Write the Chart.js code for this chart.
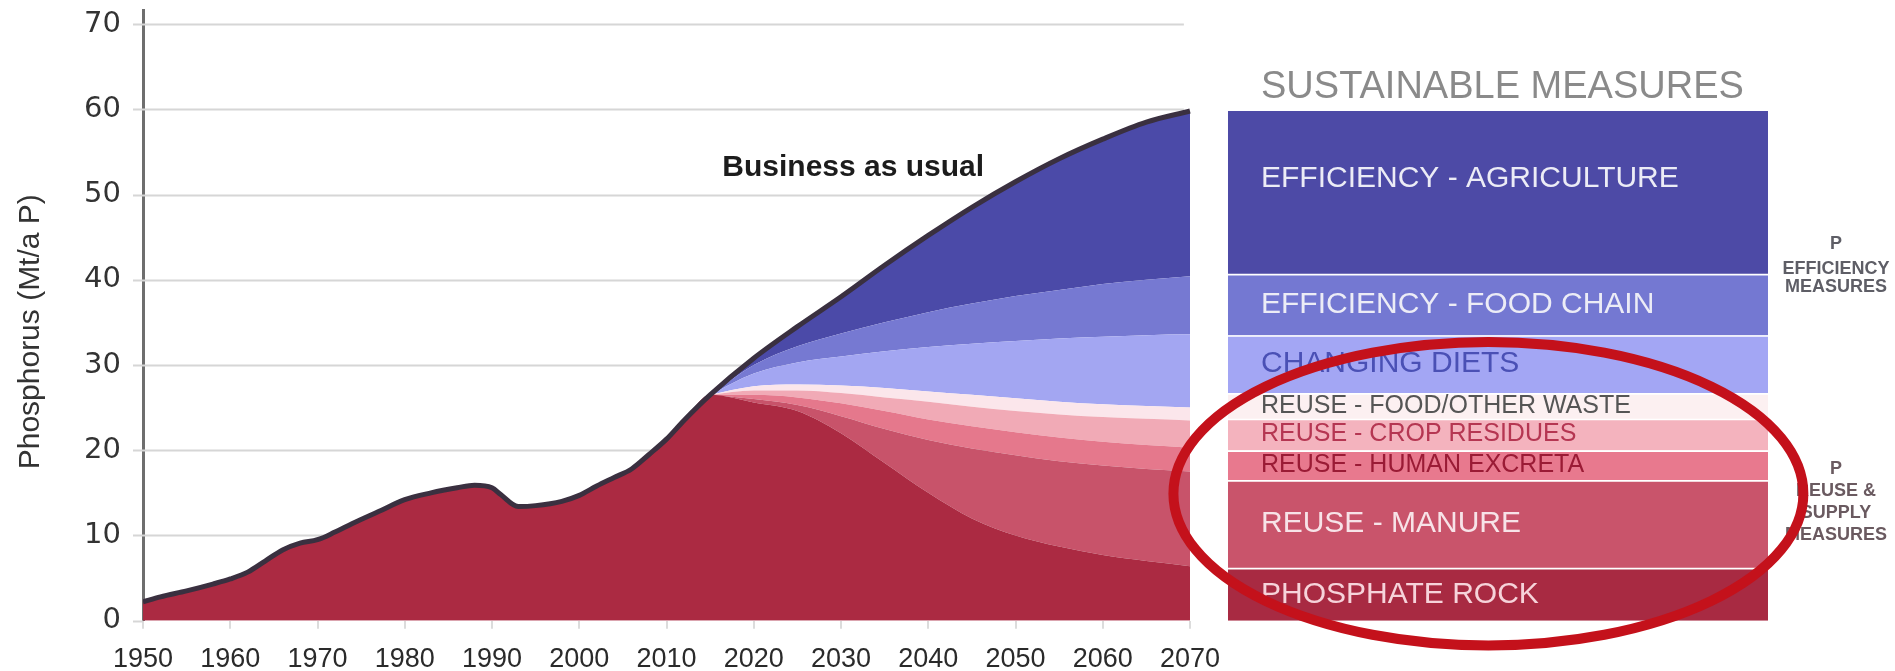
<!DOCTYPE html>
<html>
<head>
<meta charset="utf-8">
<script src="https://cdn.jsdelivr.net/npm/chart.js@4/dist/chart.umd.min.js"></script>
<style>
  html, body { margin: 0; padding: 0; background: #fff; }
  #wrap { width: 1895px; height: 671px; }
</style>
</head>
<body>
<div id="wrap"><canvas id="myChart" width="1895" height="671"></canvas></div>
<script>
// historical phosphorus use (Mt/a P), all from phosphate rock
const histYears = [1950, 1952, 1955, 1958, 1960, 1962, 1964, 1966, 1968, 1970, 1972, 1974, 1977, 1980, 1983, 1986, 1988, 1990, 1991, 1993, 1995, 1998, 2000, 2002, 2004, 2006, 2008, 2010, 2012, 2015];
const histTotal = [2.2, 2.8, 3.5, 4.3, 4.9, 5.7, 7.0, 8.3, 9.1, 9.5, 10.4, 11.4, 12.8, 14.2, 15.0, 15.6, 15.9, 15.6, 14.8, 13.4, 13.5, 14.0, 14.7, 15.8, 16.8, 17.8, 19.5, 21.3, 23.5, 26.5];

// scenario years, each array is the top of that layer
const futYears  = [2015, 2020, 2025, 2030, 2035, 2040, 2045, 2050, 2055, 2060, 2065, 2070];
const bau       = [26.5, 30.8, 34.5, 38.0, 41.7, 45.2, 48.5, 51.5, 54.2, 56.5, 58.5, 59.8];
const foodChain = [26.5, 30.0, 32.2, 33.7, 35.0, 36.2, 37.2, 38.1, 38.8, 39.5, 40.0, 40.4];
const diets     = [26.5, 29.0, 30.3, 31.0, 31.6, 32.1, 32.5, 32.8, 33.1, 33.3, 33.5, 33.6];
const waste     = [26.5, 27.5, 27.7, 27.6, 27.3, 26.9, 26.5, 26.1, 25.7, 25.4, 25.2, 25.0];
const crop      = [26.5, 27.0, 27.0, 26.7, 26.2, 25.7, 25.1, 24.6, 24.2, 23.9, 23.7, 23.5];
const excreta   = [26.5, 26.5, 26.2, 25.5, 24.6, 23.6, 22.8, 22.1, 21.5, 21.0, 20.6, 20.3];
const manure    = [26.5, 26.0, 25.3, 24.0, 22.5, 21.2, 20.2, 19.4, 18.7, 18.2, 17.8, 17.5];
const rock      = [26.5, 25.6, 24.6, 22.0, 18.5, 15.0, 12.0, 10.0, 8.7, 7.7, 7.0, 6.4];

// "sustainable measures" column, bottom to top
const measureNames = ['PHOSPHATE ROCK', 'REUSE - MANURE', 'REUSE - HUMAN EXCRETA', 'REUSE - CROP RESIDUES',
  'REUSE - FOOD/OTHER WASTE', 'CHANGING DIETS', 'EFFICIENCY - FOOD CHAIN', 'EFFICIENCY - AGRICULTURE'];
const measureTops = [6.2, 16.5, 20.0, 23.7, 26.7, 33.5, 40.7, 60.0];

const xTicks = [1950, 1960, 1970, 1980, 1990, 2000, 2010, 2020, 2030, 2040, 2050, 2060, 2070];
const yTicks = [0, 10, 20, 30, 40, 50, 60, 70];

const colRock = '#ab2a42', colManure = '#c8536a', colExcreta = '#e5788c', colCrop = '#f1aab6',
      colWaste = '#fbe6eb', colDiets = '#a3a6f2', colFood = '#7679d2', colAgri = '#4b4aa8';
const measureColors = ['#a82a42', '#c9546b', '#e8798e', '#f4b3be', '#fcf0f1', '#a3a6f4', '#7478d2', '#4d4aa6'];
const measureText = ['#f6d3da', '#f7e3e8', '#9a1b35', '#b53652', '#555555', '#4a50b5', '#ececf6', '#ececf6'];
const measureFont = [30, 30, 25, 25, 25, 30, 30, 30];

const FONT = '"Liberation Sans", Arial, sans-serif';
Chart.defaults.font.family = FONT;
Chart.defaults.color = '#333';

function pts(xs, ys) {
  return xs.map((x, i) => ({x: x, y: ys[i]}));
}

function area(label, ys, color, fill) {
  return {
    label: label,
    data: pts(futYears, ys),
    backgroundColor: color,
    borderWidth: 0,
    pointRadius: 0,
    fill: fill,
    cubicInterpolationMode: 'monotone'
  };
}

const rockPts = pts(histYears, histTotal).concat(pts(futYears.slice(1), rock.slice(1)));
const totalPts = pts(histYears, histTotal).concat(pts(futYears.slice(1), bau.slice(1)));
const measureX = 2105.3;

const labelPlugin = {
  id: 'labels',
  beforeDatasetsDraw(chart) {
    const ctx = chart.ctx, x = chart.scales.x, y = chart.scales.y;
    ctx.save();
    ctx.strokeStyle = '#d6d6d6';
    ctx.lineWidth = 2;
    yTicks.forEach(v => {
      const py = Math.round(y.getPixelForValue(v)) + 0.5;
      ctx.beginPath();
      ctx.moveTo(chart.chartArea.left - 10, py);
      ctx.lineTo(v === 0 ? chart.chartArea.left : x.getPixelForValue(2069.3), py);
      ctx.stroke();
    });
    ctx.restore();
  },
  afterDatasetsDraw(chart) {
    const ctx = chart.ctx, x = chart.scales.x, y = chart.scales.y;
    const bars = chart.getDatasetMeta(chart.data.datasets.length - 1).data;
    ctx.save();
    ctx.textBaseline = 'middle';
    ctx.textAlign = 'left';
    bars.forEach((el, i) => {
      const left = el.x - el.width / 2;
      const dy = i === bars.length - 1 ? -13 : 0;
      ctx.font = measureFont[i] + 'px ' + FONT;
      ctx.fillStyle = measureText[i];
      ctx.fillText(measureNames[i], left + 33, (el.y + el.base) / 2 + dy);
    });
    const left0 = bars[0].x - bars[0].width / 2;
    ctx.font = '38px ' + FONT;
    ctx.fillStyle = '#8a8a8a';
    ctx.fillText('SUSTAINABLE MEASURES', left0 + 33, y.getPixelForValue(62.5));

    ctx.font = 'bold 30px ' + FONT;
    ctx.fillStyle = '#1c1c1c';
    ctx.fillText('Business as usual', x.getPixelForValue(2016.4), y.getPixelForValue(53.1));

    // side notes
    const right0 = bars[0].x + bars[0].width / 2;
    ctx.textAlign = 'center';
    ctx.font = 'bold 18px ' + FONT;
    ctx.fillStyle = '#5e5e66';
    [['P', 44.2], ['EFFICIENCY', 41.3], ['MEASURES', 39.1]].forEach(t => {
      ctx.fillText(t[0], right0 + 68, y.getPixelForValue(t[1]));
    });
    ctx.fillStyle = '#6a5a60';
    [['P', 17.8], ['REUSE &', 15.2], ['SUPPLY', 12.6], ['MEASURES', 10.0]].forEach(t => {
      ctx.fillText(t[0], right0 + 68, y.getPixelForValue(t[1]));
    });
    ctx.restore();
  },
  afterDraw(chart) {
    const ctx = chart.ctx, x = chart.scales.x, y = chart.scales.y;
    ctx.save();
    // y axis title
    ctx.translate(31, y.getPixelForValue(33.9));
    ctx.rotate(-Math.PI / 2);
    ctx.font = '30px ' + FONT;
    ctx.fillStyle = '#333';
    ctx.textAlign = 'center';
    ctx.textBaseline = 'middle';
    ctx.fillText('Phosphorus (Mt/a P)', 0, 0);
    ctx.restore();

    // red ring around the reuse and supply measures
    const cx = x.getPixelForValue(2104.2), cy = y.getPixelForValue(14.9);
    const rx = x.getPixelForValue(2104.2 + 36.1) - cx, ry = cy - y.getPixelForValue(14.9 + 17.8);
    ctx.save();
    ctx.strokeStyle = '#c4111b';
    ctx.lineWidth = 10;
    ctx.beginPath();
    ctx.ellipse(cx, cy, rx, ry, 0, 0, Math.PI * 2);
    ctx.stroke();
    ctx.restore();
  }
};

const config = {
  data: {
    datasets: [
      {
        label: 'Phosphate rock',
        data: rockPts,
        backgroundColor: colRock,
        borderWidth: 0,
        pointRadius: 0,
        fill: 'origin',
        cubicInterpolationMode: 'monotone'
      },
      area('Reuse - manure', manure, colManure, '-1'),
      area('Reuse - human excreta', excreta, colExcreta, '-1'),
      area('Reuse - crop residues', crop, colCrop, '-1'),
      area('Reuse - food/other waste', waste, colWaste, '-1'),
      area('Changing diets', diets, colDiets, '-1'),
      area('Efficiency - food chain', foodChain, colFood, '-1'),
      area('Efficiency - agriculture', bau, colAgri, '-1'),
      {
        label: 'Business as usual',
        data: totalPts,
        borderColor: '#3a3040',
        borderWidth: 5,
        pointRadius: 0,
        fill: false,
        order: -1,
        cubicInterpolationMode: 'monotone'
      },
      {
        type: 'bar',
        label: 'Sustainable measures',
        data: measureTops.map((t, i) => ({x: measureX, y: [i ? measureTops[i - 1] : 0, t]})),
        backgroundColor: measureColors,
        borderColor: 'rgba(255,255,255,0.6)',
        borderWidth: {top: 2, right: 0, bottom: 0, left: 0},
        borderSkipped: false,
        barThickness: 540,
        order: 1
      }
    ]
  },
  type: 'line',
  options: {
    responsive: false,
    animation: false,
    layout: { padding: { top: 10.4, right: 7, left: 0, bottom: 0 } },
    plugins: { legend: { display: false }, tooltip: { enabled: false } },
    scales: {
      x: {
        type: 'linear',
        min: 1950,
        max: 2150,
        offset: false,
        afterBuildTicks: s => { s.ticks = xTicks.map(v => ({value: v})); },
        afterFit: s => { s.height = 50.3; },
        ticks: { font: { size: 27 }, color: '#2a2a2a', padding: 15, maxRotation: 0, autoSkip: false, callback: v => String(v) },
        grid: { offset: false, drawOnChartArea: false, tickLength: 8, color: '#dcdcdc', lineWidth: 2 },
        border: { display: false }
      },
      y: {
        min: 0,
        max: 71.6,
        afterBuildTicks: s => { s.ticks = yTicks.map(v => ({value: v})); },
        afterFit: s => { s.width = 143; },
        // the label gap is taken from the (hidden) tick length so it does not pad the top of the plot
        ticks: { font: { size: 29, family: '"DejaVu Sans", ' + FONT, lineHeight: 0.7 }, color: '#333', padding: 0 },
        grid: { display: false, drawTicks: true, tickLength: 22 },
        border: { display: true, color: '#6e6e6e', width: 3 }
      }
    }
  },
  plugins: [labelPlugin]
};

const myChart = new Chart(document.getElementById('myChart'), config);
</script>
</body>
</html>
